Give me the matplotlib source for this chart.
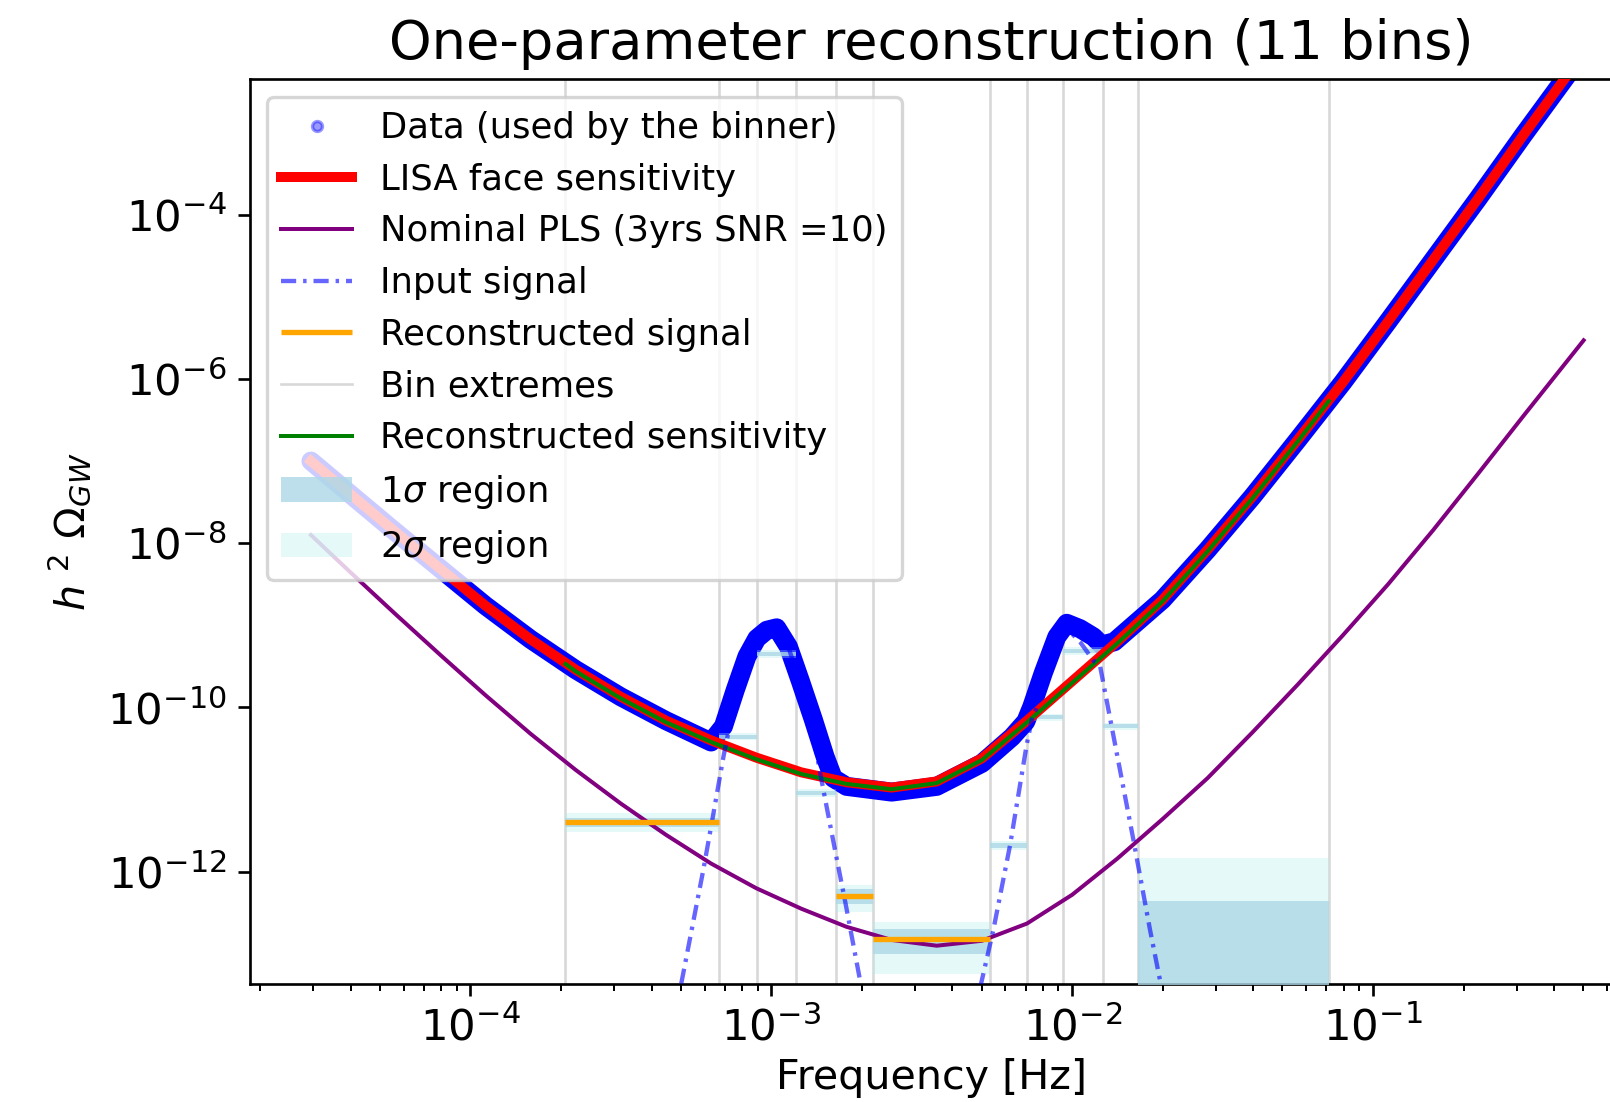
import numpy as np
import matplotlib
matplotlib.use('Agg')
import matplotlib.pyplot as plt
from matplotlib.ticker import NullLocator

# values, stored as log10(f [Hz]) and log10(h^2 Omega_GW)
nan = np.nan

data_logf = [-4.53, -4.40, -4.25, -4.10, -3.95, -3.80, -3.65, -3.50, -3.35, -3.20,
             -3.159, -3.120, -3.081, -3.048, -3.015, -2.982, -2.943, -2.904, -2.860, -2.821,
             -2.794, -2.75, -2.60, -2.45, -2.30, -2.20, -2.154, -2.134, -2.096, -2.051,
             -2.018, -1.974, -1.929, -1.902, -1.86, -1.70, -1.55, -1.40, -1.25, -1.10,
             -0.95, -0.80, -0.65, -0.50, -0.30]
data_logy = [-7.00, -7.40, -7.86, -8.31, -8.76, -9.17, -9.54, -9.87, -10.16, -10.42,
             -10.23, -9.79, -9.38, -9.16, -9.06, -9.03, -9.26, -9.67, -10.15, -10.60,
             -10.86, -10.96, -11.03, -10.96, -10.68, -10.36, -10.17, -9.99, -9.58, -9.14,
             -8.975, -9.04, -9.14, -9.24, -9.20, -8.69, -8.08, -7.43, -6.74, -6.04,
             -5.30, -4.55, -3.80, -3.03, -2.03]
# extra vertical scatter of the data cloud (half width, dex)
data_spread = [0.0, 0.0, 0.0, 0.0, 0.0, 0.0, 0.0, 0.01, 0.01, 0.01,
               0.0, 0.0, 0.0, 0.0, 0.0, 0.0, 0.0, 0.0, 0.0, 0.0,
               0.02, 0.03, 0.04, 0.04, 0.03, 0.03, 0.03, 0.0, 0.0, 0.0,
               0.0, 0.0, 0.0, 0.0, 0.03, 0.04, 0.05, 0.05, 0.06, 0.07,
               0.08, 0.09, 0.10, 0.12, 0.12]

lisa_logf = [-4.53, -4.40, -4.25, -4.10, -3.95, -3.80, -3.65, -3.50, -3.35, -3.20,
             -3.05, -2.90, -2.75, -2.60, -2.45, -2.30, -2.15, -2.00, -1.85, -1.70,
             -1.55, -1.40, -1.25, -1.10, -0.95, -0.80, -0.65, -0.50, -0.30]
lisa_logy = [-7.00, -7.40, -7.86, -8.31, -8.76, -9.17, -9.54, -9.87, -10.16, -10.40,
             -10.61, -10.79, -10.91, -10.975, -10.90, -10.62, -10.16, -9.68, -9.20, -8.69,
             -8.08, -7.43, -6.74, -6.04, -5.30, -4.55, -3.80, -3.03, -2.03]

rec_sens_logf = [-3.684, -3.65, -3.50, -3.35, -3.20, -3.05, -2.90, -2.75, -2.60, -2.45,
                 -2.30, -2.15, -2.00, -1.85, -1.70, -1.55, -1.40, -1.25, -1.147]
rec_sens_logy = [-9.47, -9.56, -9.89, -10.18, -10.42, -10.63, -10.81, -10.93, -10.995, -10.92,
                 -10.64, -10.18, -9.70, -9.22, -8.71, -8.10, -7.45, -6.76, -6.27]

pls_logf = [-4.53, -4.40, -4.25, -4.10, -3.95, -3.80, -3.65, -3.50, -3.35, -3.20,
            -3.05, -2.90, -2.75, -2.60, -2.45, -2.30, -2.15, -2.00, -1.85, -1.70,
            -1.55, -1.40, -1.25, -1.10, -0.95, -0.80, -0.65, -0.50, -0.30]
pls_logy = [-7.90, -8.35, -8.86, -9.36, -9.85, -10.32, -10.76, -11.17, -11.55, -11.90,
            -12.20, -12.45, -12.67, -12.83, -12.90, -12.84, -12.63, -12.28, -11.84, -11.36,
            -10.86, -10.30, -9.72, -9.12, -8.50, -7.84, -7.15, -6.45, -5.53]

signal_logf = [-3.32, -3.297, -3.226, -3.198, -3.159, -3.12, -3.08, -3.05, -2.98, -2.94,
               -2.90, -2.86, -2.827, -2.79, -2.755, -2.705, -2.68, nan,
               -2.33, -2.300, -2.262, -2.206, -2.151, -2.134, -2.096, -2.051, -2.018, -1.974,
               -1.929, -1.907, -1.852, -1.797, -1.741, -1.708, -1.68]
signal_logy = [-13.75, -13.32, -11.98, -11.41, -10.60, -9.90, -9.45, -9.22, -9.08, -9.30,
               -9.75, -10.35, -11.00, -11.70, -12.35, -13.32, -13.80, nan,
               -13.80, -13.32, -12.71, -11.67, -10.45, -10.15, -9.79, -9.22, -9.04, -9.20,
               -9.43, -9.50, -10.55, -11.60, -12.71, -13.32, -13.90]

# 11 bins
bin_edges = [2.07e-4, 6.70e-4, 8.98e-4, 1.205e-3, 1.64e-3, 2.18e-3,
             5.32e-3, 7.07e-3, 9.33e-3, 1.263e-2, 1.65e-2, 7.13e-2]
rec_signal_logy = [-11.40, nan, nan, nan, -12.29, -12.82, nan, nan, nan, nan, nan]
sig1_lo = [-11.46, -10.38, -9.375, -11.065, -12.39, -13.00, -11.715, -10.145, -9.335, -10.255, -16.0]
sig1_hi = [-11.34, -10.33, -9.325, -11.015, -12.21, -12.70, -11.645, -10.095, -9.285, -10.205, -12.36]
sig2_lo = [-11.52, -10.40, -9.395, -11.085, -12.49, -13.24, -11.73, -10.165, -9.355, -10.275, -16.0]
sig2_hi = [-11.28, -10.31, -9.305, -10.995, -12.16, -12.61, -11.63, -10.075, -9.265, -10.185, -11.83]


def p(a):
    return 10.0 ** np.asarray(a, dtype=float)


def stepped(v):
    # repeat the last bin value so step='post' covers the final bin
    return np.append(p(v), p(v)[-1])


fig = plt.figure(figsize=(1610 / 240, 1102 / 240), dpi=240)
ax = fig.add_axes([0.155, 0.1074, 0.8475, 0.8208])
ax.set_xscale('log')
ax.set_yscale('log')

f_data = p(data_logf)
ax.plot(f_data, p(data_logy), 'o', ms=3, color='blue', alpha=0.4, ls='none',
        label='Data (used by the binner)', zorder=2)
ax.plot(f_data, p(data_logy), '-', color='blue', lw=5.7, solid_joinstyle='round',
        solid_capstyle='round', zorder=2)
ax.fill_between(f_data, p(np.array(data_logy) - np.array(data_spread)),
                p(np.array(data_logy) + np.array(data_spread)), color='blue', lw=0, zorder=2)

ax.plot(p(lisa_logf), p(lisa_logy), color='red', lw=3, label='LISA face sensitivity', zorder=3)
ax.plot(p(pls_logf), p(pls_logy), color='purple', lw=1.2,
        label='Nominal PLS (3yrs SNR =10)', zorder=3.1)
ax.plot(p(signal_logf), p(signal_logy), color='blue', alpha=0.6, lw=1.3,
        ls=(0, (3.5, 1.6, 0.8, 1.6)), label='Input signal', zorder=3.3)
ax.hlines(p(rec_signal_logy), bin_edges[:-1], bin_edges[1:], color='orange', lw=1.6,
          label='Reconstructed signal', zorder=3.4)
for i, e in enumerate(bin_edges):
    ax.axvline(e, color='gray', alpha=0.3, lw=0.8, zorder=1,
               label='Bin extremes' if i == 0 else None)
ax.plot(p(rec_sens_logf), p(rec_sens_logy), color='green', lw=1.2,
        label='Reconstructed sensitivity', zorder=3.2)
ax.fill_between(bin_edges, stepped(sig1_lo), stepped(sig1_hi), step='post',
                color='lightblue', alpha=0.8, lw=0, label=r'1$\sigma$ region', zorder=2.6)
ax.fill_between(bin_edges, stepped(sig2_lo), stepped(sig2_hi), step='post',
                color='paleturquoise', alpha=0.3, lw=0, label=r'2$\sigma$ region', zorder=2.5)

ax.set_xlim(10 ** -4.734, 10 ** -0.199)
ax.set_ylim(10 ** -13.362, 10 ** -2.35)
ax.set_yticks([1e-12, 1e-10, 1e-8, 1e-6, 1e-4])
ax.yaxis.set_minor_locator(NullLocator())
ax.tick_params(labelsize=13)

ax.set_title('One-parameter reconstruction (11 bins)', fontsize=16.3)
ax.set_xlabel('Frequency [Hz]', fontsize=12.4, labelpad=2.5)
ax.set_ylabel(r'$h\ ^2\ \Omega_{GW}$', fontsize=12.4)
ax.legend(loc='upper left', fontsize=10.6)

fig.savefig('out.png', dpi=240)
